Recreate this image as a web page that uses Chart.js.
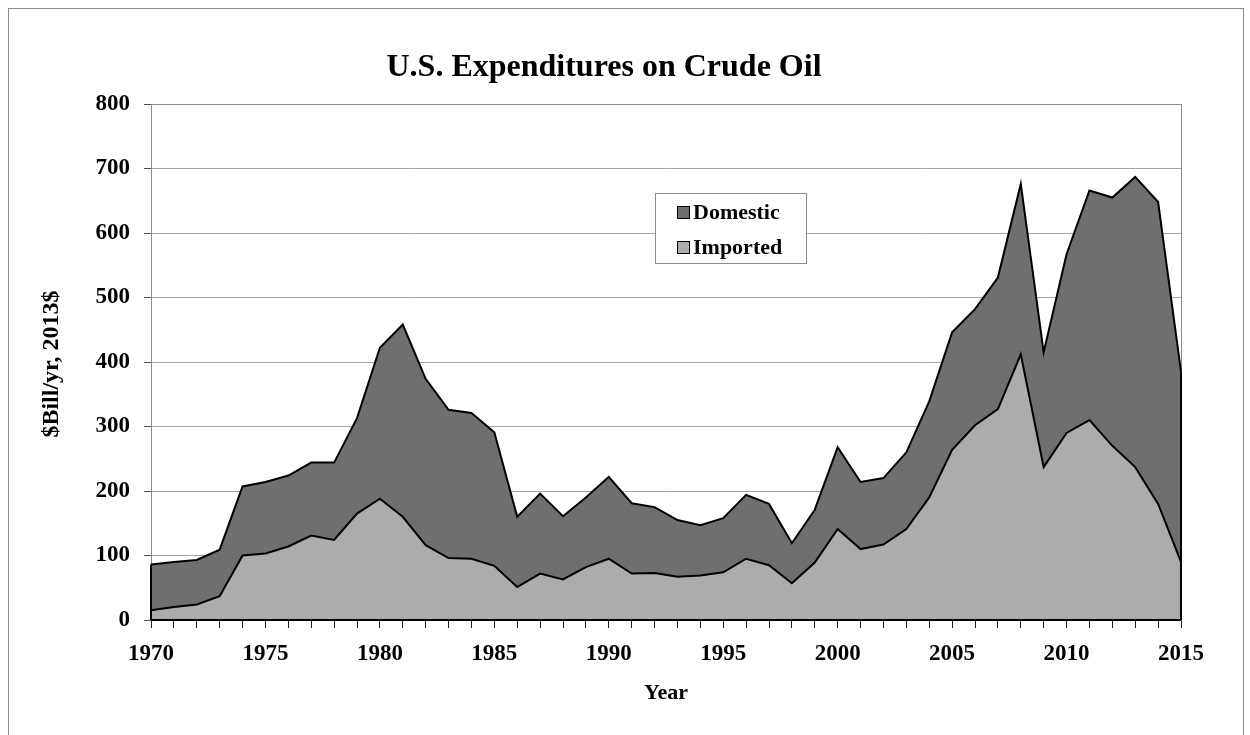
<!DOCTYPE html>
<html>
<head>
<meta charset="utf-8">
<script src="https://cdn.jsdelivr.net/npm/chart.js@4.4.0/dist/chart.umd.min.js"></script>
<style>
  html, body { margin: 0; padding: 0; background: #fff; }
  #wrap { position: relative; width: 1250px; height: 735px; overflow: hidden; }
  #frame { position: absolute; left: 8px; top: 8px; width: 1234px; height: 740px; border: 1px solid #8c8c8c; pointer-events: none; }
</style>
</head>
<body>
<div id="wrap">
  <canvas id="chart" width="1250" height="735"></canvas>
  <div id="frame"></div>
</div>
<script>
const serif = '"Liberation Serif", "Times New Roman", serif';

//Years on the x axis
const years = [1970, 1971, 1972, 1973, 1974, 1975, 1976, 1977, 1978, 1979,
  1980, 1981, 1982, 1983, 1984, 1985, 1986, 1987, 1988, 1989,
  1990, 1991, 1992, 1993, 1994, 1995, 1996, 1997, 1998, 1999,
  2000, 2001, 2002, 2003, 2004, 2005, 2006, 2007, 2008, 2009,
  2010, 2011, 2012, 2013, 2014, 2015];
//Imported crude, $Bill/yr (bottom layer)
const imported = [15, 20, 24, 37, 100, 103, 114, 131, 124, 165,
  188, 160, 116, 96, 95, 84, 51, 72, 63, 82,
  95, 72, 73, 67, 69, 74, 95, 85, 57, 89,
  141, 110, 117, 141, 190, 264, 302, 327, 412, 237,
  290, 310, 270, 237, 180, 90];
//Domestic crude, $Bill/yr (stacked on top of imported)
const domestic = [71, 70, 69, 72, 107, 111, 110, 113, 120, 148,
  234, 298, 258, 230, 226, 207, 109, 124, 98, 108,
  127, 109, 102, 88, 78, 84, 99, 95, 62, 82,
  127, 104, 103, 119, 149, 182, 180, 204, 264, 178,
  277, 356, 385, 450, 468, 295];
//y axis ticks
const yMin = 0, yMax = 800, yStep = 100;

const colDomestic = '#6f6f6f';
const colImported = '#acacac';

//draws title, axis titles, legend and the plot frame
const decorPlugin = {
  id: 'decor',
  beforeDatasetsDraw(chart) {
    const { ctx, chartArea: a } = chart;
    ctx.save();
    ctx.strokeStyle = '#8c8c8c';
    ctx.lineWidth = 1;
    ctx.strokeRect(a.left + 0.5, a.top + 0.5, a.right - a.left, a.bottom - a.top);
    ctx.restore();
  },
  afterDatasetsDraw(chart) {
    const { ctx, chartArea: a } = chart;
    const top = chart.getDatasetMeta(1).data;
    ctx.save();
    ctx.strokeStyle = '#000';
    ctx.lineWidth = 2;
    ctx.beginPath();
    //edges of the stacked area
    ctx.moveTo(top[0].x, top[0].y);
    ctx.lineTo(top[0].x, a.bottom);
    ctx.moveTo(top[top.length - 1].x, top[top.length - 1].y);
    ctx.lineTo(top[top.length - 1].x, a.bottom);
    //x axis line
    ctx.moveTo(a.left, a.bottom);
    ctx.lineTo(a.right, a.bottom);
    ctx.stroke();
    ctx.restore();
  },
  afterDraw(chart) {
    const { ctx, chartArea: a } = chart;
    ctx.save();
    ctx.fillStyle = '#000';
    ctx.textAlign = 'center';
    ctx.textBaseline = 'middle';
    ctx.font = 'bold 32px ' + serif;
    ctx.fillText('U.S. Expenditures on Crude Oil', 604, 68);
    ctx.font = 'bold 22px ' + serif;
    ctx.fillText('Year', (a.left + a.right) / 2, 693);
    ctx.save();
    ctx.font = 'bold 24px ' + serif;
    ctx.translate(52, (a.top + a.bottom) / 2 + 2);
    ctx.rotate(-Math.PI / 2);
    ctx.fillText('$Bill/yr, 2013$', 0, 0);
    ctx.restore();

    //legend box
    ctx.fillStyle = '#fff';
    ctx.fillRect(655, 193, 151, 70);
    ctx.strokeStyle = '#8c8c8c';
    ctx.lineWidth = 1;
    ctx.strokeRect(655.5, 193.5, 151, 70);
    const items = [chart.data.datasets[1], chart.data.datasets[0]];
    items.forEach((ds, i) => {
      const y = 212 + i * 35;
      ctx.fillStyle = ds.backgroundColor;
      ctx.fillRect(677, y - 6, 12, 12);
      ctx.strokeStyle = '#000';
      ctx.strokeRect(677.5, y - 5.5, 12, 12);
      ctx.fillStyle = '#000';
      ctx.textAlign = 'left';
      ctx.font = 'bold 22px ' + serif;
      ctx.fillText(ds.label, 693, y + 1);
    });
    ctx.restore();
  }
};

const myChart = new Chart(document.getElementById('chart'), {
  type: 'line',
  data: {
    labels: years,
    datasets: [
      {
        label: 'Imported',
        data: imported,
        backgroundColor: colImported,
        borderColor: '#000',
        borderWidth: 2,
        fill: 'origin',
        pointRadius: 0,
        tension: 0,
      },
      {
        label: 'Domestic',
        data: domestic,
        backgroundColor: colDomestic,
        borderColor: '#000',
        borderWidth: 2,
        fill: '-1',
        pointRadius: 0,
        tension: 0,
      },
    ],
  },
  options: {
    responsive: false,
    animation: false,
    layout: { padding: { left: 0, top: 104, right: 69, bottom: 0 } },
    plugins: {
      legend: { display: false },
      tooltip: { enabled: false },
    },
    scales: {
      x: {
        offset: false,
        grid: { drawOnChartArea: false, tickLength: 8, color: '#222', lineWidth: 1 },
        border: { display: false },
        ticks: {
          autoSkip: false,
          maxRotation: 0,
          padding: 12,
          color: '#000',
          font: { family: serif, size: 23, weight: 'bold' },
          callback: (v, i) => (years[i] % 5 === 0 ? String(years[i]) : ''),
        },
        afterFit: (s) => { s.height = 115; },
      },
      y: {
        stacked: true,
        min: yMin,
        max: yMax,
        ticks: {
          stepSize: yStep,
          padding: 14,
          color: '#000',
          font: { family: serif, size: 23, weight: 'bold' },
        },
        grid: { color: '#a6a6a6', tickLength: 7, tickColor: '#555' },
        border: { color: '#8c8c8c' },
        afterFit: (s) => { s.width = 151; },
      },
    },
  },
  plugins: [decorPlugin],
});
</script>
</body>
</html>
